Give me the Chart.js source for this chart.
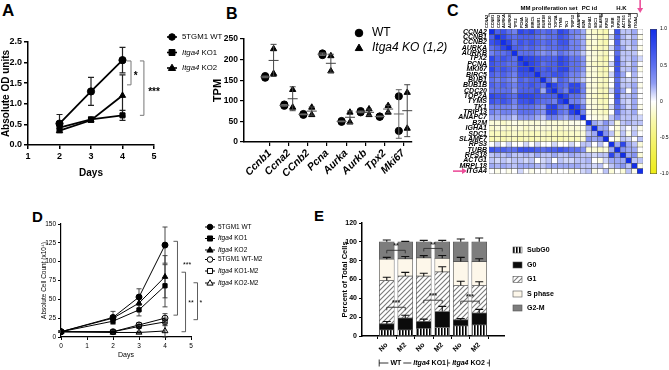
<!DOCTYPE html>
<html><head><meta charset="utf-8">
<script src="https://cdn.jsdelivr.net/npm/chart.js@4.4.1/dist/chart.umd.min.js"></script>
<style>
html,body{margin:0;padding:0;background:#fff}
body{width:669px;height:370px;position:relative;overflow:hidden;font-family:'Liberation Sans',Arial,sans-serif}
canvas{position:absolute}
.pl{position:absolute;font-weight:bold;line-height:1;color:#000}
</style></head><body>
<div class="pl" style="left:2px;top:2px;font-size:17px">A</div>
<div class="pl" style="left:226px;top:6px;font-size:16px">B</div>
<div class="pl" style="left:447px;top:3px;font-size:16px">C</div>
<div class="pl" style="left:32px;top:209px;font-size:15px">D</div>
<div class="pl" style="left:314px;top:208px;font-size:15px">E</div>
<canvas id="cA" width="230" height="179" style="left:0;top:0"></canvas>
<canvas id="cB" width="250" height="185" style="left:200px;top:0"></canvas>
<canvas id="cC" width="230" height="180" style="left:420px;top:0"></canvas>
<canvas id="cK" width="24" height="180" style="left:645px;top:0"></canvas>
<canvas id="cD" width="295" height="174" style="left:0;top:185px"></canvas>
<canvas id="cE" width="290" height="185" style="left:300px;top:185px"></canvas>
<script>
// ================= DATA =================
// Panel A – absolute OD units
const daysA = [2, 3, 4];
const seriesA = ['5TGM1 WT', 'Itga4 KO1', 'Itga4 KO2'];
const odWT  = [0.52, 1.30, 2.06];
const odKO1 = [0.42, 0.62, 0.72];
const odKO2 = [0.35, 0.60, 1.20];
const odWTerr  = [0.22, 0.34, 0.31];
const odKO1err = [0.07, 0.06, 0.12];
const odKO2err = [0.05, 0.05, 0.50];

// Panel B – TPM
const genesB = ['Ccnb1', 'Ccna2', 'CCnb2', 'Pcna', 'Aurka', 'Aurkb', 'Tpx2', 'Mki67'];
const seriesB = ['WT', 'Itga4 KO (1,2)'];
const wtRep1 = [160, 91, 68, 215, 51, 75, 62, 111];
const wtRep2 = [156, 88, 66, 211, 49, 72, 61, 27];
const koRep1 = [226, 127, 84, 209, 72, 80, 88, 120];
const koRep2 = [166, 84, 66, 172, 48, 66, 72, 33];
const wtMean = [158, 89, 67, 213, 50, 73, 62, 68];
const wtSD   = [2, 2, 1, 3, 1, 2, 1, 59];
const koMean = [198, 105, 75, 191, 60, 72, 80, 76];
const koSD   = [39, 29, 10, 22, 15, 8, 9, 63];

// Panel C – correlation matrix (lower triangle, row i has cols 0..i)
const geneNames = ['CCNA2','CCNB1','CCNB2','AURKA','AURKB','TPX2','PCNA','MKI67','BIRC5','BUB1','BUB1B','CDC20','TOP2A','TYMS','TK1','TRIP13','ANAPC7','B2M','IGHA1','SDC1','SLAMF7','RPS3','TUBB','RPS18','ACTG1','MRPL18','ITGA4'];
const corrLower = [
 [1],
 [.6,1],
 [.7,.8,1],
 [.5,.6,.8,1],
 [.4,.5,.5,.6,1],
 [.8,.6,.7,.6,.5,1],
 [.7,.6,.6,.5,.5,.8,1],
 [.8,.6,.7,.6,.5,.8,.8,1],
 [.6,.5,.6,.5,.4,.7,.7,.7,1],
 [.5,.4,.5,.4,.3,.6,.5,.6,.6,1],
 [.6,.5,.6,.5,.4,.6,.6,.7,.6,.5,1],
 [.5,.5,.5,.5,.3,.6,.6,.6,.7,.2,.8,1],
 [.8,.7,.7,.6,.5,.8,.8,.8,.7,.6,.6,.6,1],
 [.7,.6,.7,.6,.4,.7,.7,.8,.6,.5,.5,.4,.8,1],
 [.4,.4,.4,.4,.3,.5,.5,.5,.4,.3,.8,.85,.5,.4,1],
 [.4,.3,.4,.4,.3,.5,.5,.5,.4,.3,.8,.8,.5,.4,.8,1],
 [.2,.2,.2,.2,.1,.3,.3,.3,.2,.1,.4,.4,.3,.2,.4,.4,1],
 [-.1,-.1,-.15,-.1,-.05,-.1,-.1,-.1,-.1,-.05,-.1,-.1,-.1,-.1,-.05,-.05,0,1],
 [-.15,-.1,-.1,-.15,-.1,-.1,-.15,-.1,-.1,-.1,-.1,-.1,-.15,-.1,-.1,-.1,-.05,.2,1],
 [-.2,-.2,-.2,-.2,-.15,-.2,-.2,-.2,-.2,-.15,-.2,-.2,-.2,-.2,-.15,-.15,-.1,.1,.2,1],
 [-.25,-.2,-.25,-.2,-.2,-.25,-.2,-.25,-.2,-.2,-.2,-.2,-.25,-.2,-.2,-.2,-.1,.3,.2,.3,1],
 [0,.05,0,.05,0,0,.05,0,.05,0,0,.05,0,0,.05,0,.1,.1,0,.1,0,1],
 [.7,.6,.6,.5,.5,.7,.7,.7,.6,.5,.6,.6,.7,.6,.5,.5,.3,-.1,-.1,-.15,-.1,.2,1],
 [.1,.15,.1,.2,.1,.1,.15,.1,.2,.1,.1,.2,.1,.1,.2,.15,.1,.1,.05,.1,.1,.8,.3,1],
 [.1,.05,.1,.05,.1,.1,.05,.1,0,.05,.1,0,.1,.05,.05,.1,.1,.15,0,-.05,.05,.2,.2,.2,1],
 [.2,.15,.2,.15,.1,.2,.2,.2,.15,.1,.2,.2,.2,.2,.2,.2,.1,.1,.05,.1,0,.1,.2,.3,.1,1],
 [0,-.05,0,-.05,0,.05,0,-.05,0,0,-.05,0,0,0,-.05,0,.05,.1,-.05,0,.1,-.1,0,-.1,.1,-.05,1]
];
const geneSets = ['MM proliferation set', 'PC id', 'H.K'];
const colorbarTicks = [1, 0.5, 0, -0.5, -1];
const colorbarLabels = ['1.0', '0.5', '0', '-0.5', '-1.0'];

// Panel D – absolute cell count (x10^4)
const daysD = [0, 2, 3, 4];
const seriesD = ['5TGM1 WT', 'Itga4 KO1', 'Itga4 KO2', '5TGM1 WT-M2', 'Itga4 KO1-M2', 'Itga4 KO2-M2'];
const cntWT    = [7, 26, 53, 122];
const cntKO1   = [7, 21, 36, 68];
const cntKO2   = [7, 25, 45, 80];
const cntWTM2  = [7, 7, 16, 25];
const cntKO1M2 = [7, 7, 14, 20];
const cntKO2M2 = [7, 6, 6, 8];
const errWT    = [1, 8, 11, 24];
const errKO1   = [1, 4, 8, 28];
const errKO2   = [1, 3, 10, 28];
const errWTM2  = [1, 1, 3, 6];
const errKO1M2 = [1, 1, 2, 5];
const errKO2M2 = [1, 1, 1, 8];

// Panel E – percent of total cells
const barsE = ['No', 'M2', 'No', 'M2', 'No', 'M2'];
const groupsE = ['WT', 'Itga4 KO1', 'Itga4 KO2'];
const phasesE = ['SubG0', 'G0', 'G1', 'S phase', 'G2-M'];
const pSubG0 = [6.4, 6.4, 8.2, 9, 10.7, 11.8];
const pG0    = [6.5, 12.6, 7.2, 17, 6.3, 12.5];
const pG1    = [46, 44.6, 48.2, 42, 36.6, 29.3];
const pS     = [22.6, 18.4, 19.3, 14.5, 25.4, 25.4];
const pG2M   = [18.5, 18, 17.1, 17.5, 21, 21];
const eG0    = [2.5, 3, 2.5, 5.5, 1.5, 4];
const eG1    = [3.5, 4, 3, 5.5, 4.5, 4];
const eS     = [2, 2.5, 2.5, 3, 4.5, 3];
const eG2M   = [2, 0.5, 1.5, 1.5, 3, 4];

// ================= HELPERS =================
const FAM = "'Liberation Sans', Arial, Helvetica, sans-serif";
const FAMN = "'Liberation Sans Narrow', 'Arial Narrow', 'Liberation Sans', Arial, sans-serif";
Chart.defaults.font.family = FAM;
Chart.defaults.color = '#000';
const BASE = {responsive:false, animation:false, devicePixelRatio:1, events:[],
  plugins:{legend:{display:false}, tooltip:{enabled:false}}};

function parts(label){
  return label.startsWith('Itga4') ? [{t:'Itga4', i:true}, {t:label.slice(5)}] : [{t:label}];
}
function mark(ctx, style, x, y, r, fill, lw){
  ctx.save(); ctx.beginPath();
  if (style === 'circle') ctx.arc(x, y, r, 0, Math.PI*2);
  else if (style === 'rect') ctx.rect(x-r*0.9, y-r*0.9, r*1.8, r*1.8);
  else { ctx.moveTo(x, y-r*1.15); ctx.lineTo(x+r*1.1, y+r*0.75); ctx.lineTo(x-r*1.1, y+r*0.75); ctx.closePath(); }
  if (fill) { ctx.fillStyle = fill; ctx.fill(); }
  ctx.lineWidth = lw || 1; ctx.strokeStyle = '#000'; ctx.stroke(); ctx.restore();
}
function drawParts(ctx, ps, x, y, size, weight, fam){
  ctx.save(); ctx.fillStyle = '#000'; ctx.textBaseline = 'middle'; ctx.textAlign = 'left';
  ps.forEach(p => { ctx.font = (p.i ? 'italic ' : '') + (weight||'normal') + ' ' + size + 'px ' + (fam||FAM);
    ctx.fillText(p.t, x, y); x += ctx.measureText(p.t).width; });
  ctx.restore(); return x;
}
function partsWidth(ctx, ps, size, weight, fam){
  let w = 0; ctx.save();
  ps.forEach(p => { ctx.font = (p.i ? 'italic ' : '') + (weight||'normal') + ' ' + size + 'px ' + (fam||FAM); w += ctx.measureText(p.t).width; });
  ctx.restore(); return w;
}
// custom legend
const legendPlugin = {id:'cleg', afterDraw(chart, a, o){
  if (!o.items) return; const ctx = chart.ctx;
  o.items.forEach(it => {
    if (it.swatch) {
      ctx.save(); ctx.fillStyle = it.swatch; ctx.fillRect(o.mx-o.sw/2, it.y-o.sh/2, o.sw, o.sh);
      ctx.strokeStyle = '#555'; ctx.lineWidth = 0.6; ctx.strokeRect(o.mx-o.sw/2, it.y-o.sh/2, o.sw, o.sh); ctx.restore();
    } else {
      ctx.save(); ctx.strokeStyle = '#000'; ctx.lineWidth = o.lw; ctx.beginPath();
      ctx.moveTo(o.mx-o.ll, it.y); ctx.lineTo(o.mx+o.ll, it.y); ctx.stroke(); ctx.restore();
      mark(ctx, it.style, o.mx, it.y, o.r, it.fill, o.mlw);
    }
    drawParts(ctx, parts(it.label), o.tx, it.y, o.size, o.weight, o.fam);
  });
}};
// vertical error bars for point datasets
const errPlugin = {id:'ebar', beforeDatasetsDraw(chart, a, o){
  if (!o.errs) return; const ctx = chart.ctx, ys = chart.scales.y;
  chart.data.datasets.forEach((ds, di) => {
    const e = o.errs[di]; if (!e) return;
    const meta = chart.getDatasetMeta(di);
    meta.data.forEach((pt, i) => {
      const v = ds.data[i].y, x = pt.x;
      const y1 = ys.getPixelForValue(v + e[i]), y2 = ys.getPixelForValue(Math.max(v - e[i], ys.min));
      ctx.save(); ctx.strokeStyle = o.color || '#000'; ctx.lineWidth = o.lw || 1; ctx.beginPath();
      ctx.moveTo(x, y1); ctx.lineTo(x, y2);
      ctx.moveTo(x-o.cap, y1); ctx.lineTo(x+o.cap, y1);
      ctx.moveTo(x-o.cap, y2); ctx.lineTo(x+o.cap, y2); ctx.stroke(); ctx.restore();
    });
  });
}};
// vertical significance brackets
const vbrPlugin = {id:'vbr', afterDraw(chart, a, o){
  if (!o.items) return; const ctx = chart.ctx, xs = chart.scales.x, ys = chart.scales.y;
  o.items.forEach(b => {
    const x = xs.getPixelForValue(b.x), y1 = ys.getPixelForValue(b.y1), y2 = ys.getPixelForValue(b.y2);
    ctx.save(); ctx.strokeStyle = o.color; ctx.lineWidth = o.lw; ctx.beginPath();
    ctx.moveTo(x-o.tick, y1); ctx.lineTo(x, y1); ctx.lineTo(x, y2); ctx.lineTo(x-o.tick, y2); ctx.stroke();
    ctx.font = o.font; ctx.fillStyle = '#000'; ctx.textAlign = 'center'; ctx.textBaseline = 'middle';
    ctx.fillText(b.text, xs.getPixelForValue(b.tx), ys.getPixelForValue(b.ty)); ctx.restore();
  });
}};

// ================= PANEL A =================
function lineDs(vals, xs, style, fill, extra){
  return Object.assign({data: xs.map((d,i)=>({x:d, y:vals[i]})), borderColor:'#000', borderWidth:1.8,
    pointStyle:style, pointRadius:3.6, pointBackgroundColor:fill, pointBorderColor:'#000', pointBorderWidth:1, tension:0}, extra||{});
}
const axisA = (o) => Object.assign({
  grid:{drawOnChartArea:false, drawTicks:true, tickLength:4, color:'#000', lineWidth:1.5},
  border:{color:'#000', width:1.5}}, o);
new Chart(document.getElementById('cA'), {
  type:'line',
  data:{datasets:[
    lineDs(odWT, daysA, 'circle', '#000'),
    lineDs(odKO1, daysA, 'rect', '#000'),
    lineDs(odKO2, daysA, 'triangle', '#000')]},
  plugins:[errPlugin, vbrPlugin, legendPlugin],
  options:Object.assign({}, BASE, {
    layout:{padding:{left:0, right:76, top:42, bottom:0}},
    plugins:{legend:{display:false}, tooltip:{enabled:false},
      ebar:{errs:[odWTerr, odKO1err, odKO2err], cap:3, lw:1.2, color:'#222'},
      vbr:{color:'#777', lw:1, tick:4, font:'bold 10px '+FAM, items:[
        {x:4.27, y1:2.04, y2:1.46, text:'*', tx:4.42, ty:1.68},
        {x:4.68, y1:2.04, y2:0.72, text:'***', tx:5.0, ty:1.28}]},
      cleg:{mx:172, ll:5, lw:1.6, r:3.3, mlw:1, tx:182, size:7.8, fam:FAMN,
        items: seriesA.map((s,i)=>({label:s, y:[37,52.5,68][i], style:['circle','rect','triangle'][i], fill:'#000'}))}
    },
    scales:{
      x: axisA({type:'linear', min:1, max:5,
        ticks:{stepSize:1, font:{size:9, weight:'bold'}, padding:2},
        title:{display:true, text:'Days', font:{size:10, weight:'bold'}, padding:0},
        afterFit(s){ s.height = 34; }}),
      y: axisA({type:'linear', min:0, max:2.5,
        ticks:{stepSize:0.5, font:{size:9, weight:'bold'}, padding:2, callback:v=>v.toFixed(1)},
        title:{display:true, text:'Absolute OD units', font:{size:10, weight:'bold'}, padding:{top:0, bottom:0}},
        afterFit(s){ s.width = 28; }})
    }
  })
});

// ================= PANEL B =================
const bErr = {id:'berr', afterDatasetsDraw(chart, a, o){
  const ctx = chart.ctx, xs = chart.scales.x, ys = chart.scales.y;
  o.sets.forEach(st => {
    st.mean.forEach((m, i) => {
      const x = xs.getPixelForValue(i + 1 + st.dx);
      const yt = ys.getPixelForValue(m + st.sd[i]), yb = ys.getPixelForValue(Math.max(m - st.sd[i], 0)), ym = ys.getPixelForValue(m);
      ctx.save(); ctx.strokeStyle = st.color; ctx.lineWidth = 1; ctx.beginPath();
      ctx.moveTo(x, yt); ctx.lineTo(x, yb);
      ctx.moveTo(x-3, yt); ctx.lineTo(x+3, yt); ctx.moveTo(x-3, yb); ctx.lineTo(x+3, yb);
      ctx.moveTo(x-5, ym); ctx.lineTo(x+5, ym); ctx.stroke(); ctx.restore();
    });
  });
}};
const bLegend = {id:'bleg', afterDraw(chart){
  const ctx = chart.ctx;
  mark(ctx, 'circle', 159, 33, 3.8, '#000');
  drawParts(ctx, parts(seriesB[0]), 172, 33, 12, 'normal');
  mark(ctx, 'triangle', 159, 48, 3.4, '#000');
  drawParts(ctx, [{t:seriesB[1], i:true}], 172, 48, 12, 'normal');
}};
const DXW = -0.24, DXK = 0.2;
new Chart(document.getElementById('cB'), {
  type:'scatter',
  data:{datasets:[
    {data: genesB.flatMap((g,i)=>[{x:i+1+DXW, y:wtRep1[i]}, {x:i+1+DXW, y:wtRep2[i]}]), pointStyle:'circle', pointRadius:3.6, backgroundColor:'#000', borderColor:'#000'},
    {data: genesB.flatMap((g,i)=>[{x:i+1+DXK, y:koRep1[i]}, {x:i+1+DXK, y:koRep2[i]}]), pointStyle:'triangle', pointRadius:3.6, backgroundColor:'#000', borderColor:'#000'}
  ]},
  plugins:[bErr, bLegend],
  options:Object.assign({}, BASE, {
    layout:{padding:{left:0, right:38, top:39, bottom:0}},
    plugins:{legend:{display:false}, tooltip:{enabled:false},
      berr:{sets:[{mean:wtMean, sd:wtSD, dx:DXW, color:'#666'}, {mean:koMean, sd:koSD, dx:DXK, color:'#444'}]}},
    scales:{
      x:{type:'linear', min:-0.35, max:8.45,
        afterBuildTicks(s){ s.ticks = genesB.map((g,i)=>({value:i+1})); },
        ticks:{autoSkip:false, minRotation:45, maxRotation:45, padding:1, font:{size:10.5, weight:'bold', style:'italic'}, callback:(v,i)=>genesB[i]},
        grid:{drawOnChartArea:false, drawTicks:true, tickLength:4, color:'#000', lineWidth:1.2},
        border:{color:'#000', width:1.5},
        afterFit(s){ s.height = 43; }},
      y:{type:'linear', min:0, max:250,
        ticks:{stepSize:50, font:{size:8.5, weight:'bold'}, padding:2},
        grid:{drawOnChartArea:false, drawTicks:true, tickLength:4, color:'#000', lineWidth:1.2},
        border:{color:'#000', width:1.5},
        title:{display:true, text:'TPM', font:{size:11, weight:'bold'}, padding:{top:11, bottom:0}},
        afterFit(s){ s.width = 44; }}
    }
  })
});

// ================= PANEL C =================
const corr = geneNames.map((_, i) => geneNames.map((_, j) => i >= j ? corrLower[i][j] : corrLower[j][i]));
function corrColor(v){
  const mix = (a, b, t) => Math.round(a + (b - a) * t);
  if (v >= 0) { const t = Math.pow(v, 0.55); return `rgb(${mix(255,18,t)},${mix(255,46,t)},${mix(255,232,t)})`; }
  const t = Math.pow(-v, 0.8); return `rgb(${mix(255,238,t)},${mix(255,236,t)},${mix(255,20,t)})`;
}
const hmAnnot = {id:'hmAnnot', afterDraw(chart){
  const ctx = chart.ctx, xs = chart.scales.x, ys = chart.scales.y;
  const step = xs.getPixelForValue(1) - xs.getPixelForValue(0);
  const px = v => xs.getPixelForValue(0) + v * step;
  const spans = [[-0.5, 15.1, 10.0], [15.1, 19.3, 17.1], [19.3, 25.5, 22.7]];
  ctx.save(); ctx.strokeStyle = '#222'; ctx.lineWidth = 0.8;
  spans.forEach((s, k) => {
    const a = px(s[0]), b = px(s[1]);
    ctx.beginPath(); ctx.moveTo(a, 17); ctx.lineTo(a, 13.5); ctx.lineTo(b, 13.5); ctx.lineTo(b, 17); ctx.stroke();
    ctx.font = 'bold 6px ' + FAM; ctx.fillStyle = '#000'; ctx.textAlign = 'center'; ctx.textBaseline = 'middle';
    ctx.fillText(geneSets[k], px(s[2]), 8.5);
  });
  // pink arrows
  ctx.strokeStyle = '#ec4f9a'; ctx.fillStyle = '#ec4f9a'; ctx.lineWidth = 1.6;
  const ax = px(26);
  ctx.beginPath(); ctx.moveTo(ax, 0); ctx.lineTo(ax, 9); ctx.stroke();
  ctx.beginPath(); ctx.moveTo(ax-3, 8); ctx.lineTo(ax+3, 8); ctx.lineTo(ax, 13); ctx.closePath(); ctx.fill();
  const ay = ys.getPixelForValue(26.5);
  ctx.beginPath(); ctx.moveTo(33, ay); ctx.lineTo(43, ay); ctx.stroke();
  ctx.beginPath(); ctx.moveTo(42, ay-3); ctx.lineTo(42, ay+3); ctx.lineTo(47, ay); ctx.closePath(); ctx.fill();
  ctx.restore();
}};
new Chart(document.getElementById('cC'), {
  type:'bar',
  data:{labels:geneNames, datasets: geneNames.map((g, i) => ({label:g, data:geneNames.map(() => 1),
    backgroundColor: corr[i].map(corrColor), borderColor:'#555', borderWidth:0.5, borderSkipped:false,
    barPercentage:1, categoryPercentage:1}))},
  plugins:[hmAnnot],
  options:Object.assign({}, BASE, {
    layout:{padding:{left:0, right:7, top:0, bottom:4}},
    scales:{
      x:{type:'category', position:'top', stacked:true, grid:{display:false, drawTicks:false}, border:{display:false},
        ticks:{autoSkip:false, minRotation:90, maxRotation:90, padding:1, font:{size:3.8, weight:'bold'}},
        afterFit(s){ s.height = 29; }},
      y:{type:'linear', stacked:true, reverse:true, min:0, max:27, grid:{display:false, drawTicks:false}, border:{display:false},
        afterBuildTicks(s){ s.ticks = geneNames.map((g, i) => ({value:i + 0.5})); },
        ticks:{autoSkip:false, padding:2, font:{size:7, weight:'bold', style:'italic'}, callback:(v, i) => geneNames[i]},
        afterFit(s){ s.width = 69; }}
    }
  })
});
new Chart(document.getElementById('cK'), {
  type:'bar',
  data:{labels:[''], datasets:[{data:[[-1, 1]], borderColor:'#444', borderWidth:0.8, borderSkipped:false,
    barPercentage:1, categoryPercentage:1,
    backgroundColor:(c) => { const a = c.chart.chartArea; if (!a) return '#fff';
      const g = c.chart.ctx.createLinearGradient(0, a.top, 0, a.bottom);
      [1, 0.75, 0.5, 0.25, 0, -0.25, -0.5, -0.75, -1].forEach((v, k) => g.addColorStop(k / 8, corrColor(v)));
      return g; }}]},
  options:Object.assign({}, BASE, {
    layout:{padding:{left:5, right:0, top:29, bottom:5}},
    scales:{
      x:{display:false},
      y:{position:'right', min:-1, max:1, grid:{display:false, drawTicks:false}, border:{display:false},
        afterBuildTicks(s){ s.ticks = colorbarTicks.map(v => ({value:v})); },
        ticks:{autoSkip:false, padding:3, font:{size:5}, callback:(v, i) => colorbarLabels[i]},
        afterFit(s){ s.width = 12; }}
    }
  })
});

// ================= PANEL D =================
const axisD = (o) => Object.assign({
  grid:{drawOnChartArea:false, drawTicks:true, tickLength:3, color:'#000', lineWidth:1},
  border:{color:'#000', width:1.2}}, o);
const openFill = 'rgba(255,255,255,0)';
new Chart(document.getElementById('cD'), {
  type:'line',
  data:{datasets:[
    lineDs(cntWT, daysD, 'circle', '#000', {borderWidth:1, pointRadius:3}),
    lineDs(cntKO1, daysD, 'rect', '#000', {borderWidth:1, pointRadius:3}),
    lineDs(cntKO2, daysD, 'triangle', '#000', {borderWidth:1, pointRadius:3.2}),
    lineDs(cntWTM2, daysD, 'circle', openFill, {borderWidth:1, pointRadius:3}),
    lineDs(cntKO1M2, daysD, 'rect', openFill, {borderWidth:1, pointRadius:3}),
    lineDs(cntKO2M2, daysD, 'triangle', openFill, {borderWidth:1, pointRadius:3.4})]},
  plugins:[errPlugin, vbrPlugin, legendPlugin],
  options:Object.assign({}, BASE, {
    layout:{padding:{left:0, right:104, top:39, bottom:0}},
    plugins:{legend:{display:false}, tooltip:{enabled:false},
      ebar:{errs:[errWT, errKO1, errKO2, errWTM2, errKO1M2, errKO2M2], cap:2.5, lw:0.9, color:'#333'},
      vbr:{color:'#333', lw:0.8, tick:4, font:'7px '+FAM, items:[
        {x:4.48, y1:127, y2:29, text:'***', tx:4.85, ty:96},
        {x:4.79, y1:86, y2:7, text:'**', tx:5.0, ty:45},
        {x:5.25, y1:72, y2:23, text:'*', tx:5.38, ty:45}]},
      cleg:{mx:210, ll:5, lw:1, r:2.8, mlw:1, tx:218, size:6.5,
        items: seriesD.map((s, i) => ({label:s, y:[42,53.5,65,74.5,86,98][i], style:['circle','rect','triangle'][i % 3], fill: i < 3 ? '#000' : '#fff'}))}
    },
    scales:{
      x: axisD({type:'linear', min:0, max:5, ticks:{stepSize:1, font:{size:6.5}, padding:2},
        title:{display:true, text:'Days', font:{size:7}, padding:0},
        afterFit(s){ s.height = 22; }}),
      y: axisD({type:'linear', min:0, max:150, ticks:{stepSize:25, font:{size:6.5}, padding:2},
        title:{display:true, text:'Absolute Cell Count (x10\u2074)', font:{size:6.5}, padding:{top:40, bottom:0}},
        afterFit(s){ s.width = 61; }})
    }
  })
});

// ================= PANEL E =================
function mkPattern(w, h, draw){
  const c = document.createElement('canvas'); c.width = w; c.height = h;
  const g = c.getContext('2d'); draw(g); return g.createPattern(c, 'repeat');
}
const patSub = mkPattern(3, 4, g => { g.fillStyle = '#fff'; g.fillRect(0, 0, 3, 4); g.fillStyle = '#000'; g.fillRect(0, 0, 1.6, 4); });
const patG1 = mkPattern(5, 5, g => { g.fillStyle = '#fff'; g.fillRect(0, 0, 5, 5); g.strokeStyle = '#7a7a7a'; g.lineWidth = 1.1;
  g.beginPath(); g.moveTo(-1, 6); g.lineTo(6, -1); g.moveTo(-1, 1); g.lineTo(1, -1); g.moveTo(4, 6); g.lineTo(6, 4); g.stroke(); });
const fillsE = [patSub, '#0b0b0b', patG1, '#fdf7ea', '#7d7d7d'];
const valsE = [pSubG0, pG0, pG1, pS, pG2M];
const errsE = [null, eG0, eG1, eS, eG2M];
const eErr = {id:'eerr', afterDatasetsDraw(chart){
  const ctx = chart.ctx, xs = chart.scales.x, ys = chart.scales.y;
  barsE.forEach((b, i) => {
    let cum = 0;
    valsE.forEach((vals, k) => {
      cum += vals[i]; const e = errsE[k]; if (!e) return;
      const x = xs.getPixelForValue(i), y0 = ys.getPixelForValue(cum), y1 = ys.getPixelForValue(cum + e[i]);
      ctx.save(); ctx.strokeStyle = '#111'; ctx.lineWidth = 1.1; ctx.beginPath();
      ctx.moveTo(x, y0); ctx.lineTo(x, y1); ctx.moveTo(x-4, y1); ctx.lineTo(x+4, y1); ctx.stroke(); ctx.restore();
    });
  });
}};
const eSig = {id:'esig', afterDraw(chart, a, o){
  const ctx = chart.ctx, xs = chart.scales.x, ys = chart.scales.y;
  o.items.forEach(b => {
    const x1 = xs.getPixelForValue(b.x1), x2 = xs.getPixelForValue(b.x2), y = ys.getPixelForValue(b.y), yd = ys.getPixelForValue(b.y - 3.2);
    ctx.save(); ctx.strokeStyle = '#333'; ctx.lineWidth = 0.9; ctx.beginPath();
    ctx.moveTo(x1, yd); ctx.lineTo(x1, y); ctx.lineTo(x2, y); ctx.lineTo(x2, yd); ctx.stroke();
    ctx.font = 'bold 7px ' + FAM; ctx.fillStyle = '#222'; ctx.textAlign = 'center'; ctx.textBaseline = 'middle';
    ctx.fillText(b.text, (x1 + x2) / 2, ys.getPixelForValue(b.ty)); ctx.restore();
  });
}};
const eGroups = {id:'egrp', afterDraw(chart, a, o){
  const ctx = chart.ctx, xs = chart.scales.x, y = o.y;
  ctx.save(); ctx.strokeStyle = '#000'; ctx.lineWidth = 0.8;
  const ext = o.ext;
  ctx.beginPath(); ctx.moveTo(xs.getPixelForValue(ext[0][0]), y); ctx.lineTo(xs.getPixelForValue(ext[ext.length-1][1]), y); ctx.stroke();
  groupsE.forEach((g, k) => {
    const a1 = xs.getPixelForValue(ext[k][0]), b1 = xs.getPixelForValue(ext[k][1]);
    ctx.beginPath(); ctx.moveTo(a1, y-3.5); ctx.lineTo(a1, y+3.5); ctx.moveTo(b1, y-3.5); ctx.lineTo(b1, y+3.5); ctx.stroke();
    const ps = parts(g); const w = partsWidth(ctx, ps, 7, 'bold');
    const cx = (a1 + b1) / 2;
    ctx.fillStyle = '#fff'; ctx.fillRect(cx - w/2 - 2, y - 4, w + 4, 8);
    drawParts(ctx, ps, cx - w/2, y, 7, 'bold');
  });
  ctx.restore();
}};
new Chart(document.getElementById('cE'), {
  type:'bar',
  data:{datasets: phasesE.map((p, k) => ({label:p, data: valsE[k].map((v, i) => ({x:i, y:v})),
    backgroundColor: fillsE[k], borderColor:'#555', borderWidth:0.7, borderSkipped:false, barThickness:15}))},
  plugins:[eErr, eSig, eGroups, legendPlugin],
  options:Object.assign({}, BASE, {
    layout:{padding:{left:0, right:86, top:38, bottom:0}},
    plugins:{legend:{display:false}, tooltip:{enabled:false},
      esig:{items:[
        {x1:0, x2:1, y:91, ty:95, text:'**'},
        {x1:2, x2:3, y:93, ty:97, text:'**'},
        {x1:0, x2:1, y:30.5, ty:35, text:'***'},
        {x1:2, x2:3, y:38, ty:42.5, text:'***'},
        {x1:4, x2:5, y:37, ty:41.5, text:'***'}]},
      egrp:{y:178, ext:[[-0.41, 1.39], [1.47, 3.17], [3.29, 5.55]]},
      cleg:{mx:217.5, sw:9, sh:6, tx:227, size:7, weight:'bold',
        items: phasesE.map((p, k) => ({label:p, y:[65,80,94.5,109,123][k], swatch: fillsE[k]}))}
    },
    scales:{
      x:{type:'linear', stacked:true, min:-0.7, max:5.7,
        afterBuildTicks(s){ s.ticks = barsE.map((b, i) => ({value:i})); },
        ticks:{autoSkip:false, minRotation:45, maxRotation:45, padding:2, font:{size:7, weight:'bold'}, callback:(v, i) => barsE[i]},
        grid:{drawOnChartArea:false, drawTicks:true, tickLength:3, color:'#000', lineWidth:1},
        border:{color:'#000', width:1.5},
        afterFit(s){ s.height = 34; }},
      y:{type:'linear', stacked:true, min:0, max:120,
        ticks:{stepSize:20, font:{size:7, weight:'bold'}, padding:2},
        grid:{drawOnChartArea:false, drawTicks:true, tickLength:3, color:'#000', lineWidth:1},
        border:{color:'#000', width:1.5},
        title:{display:true, text:'Percent of Total Cells', font:{size:7.5, weight:'bold'}, padding:{top:40, bottom:0}},
        afterFit(s){ s.width = 62; }}
    }
  })
});
</script>
</body></html>
